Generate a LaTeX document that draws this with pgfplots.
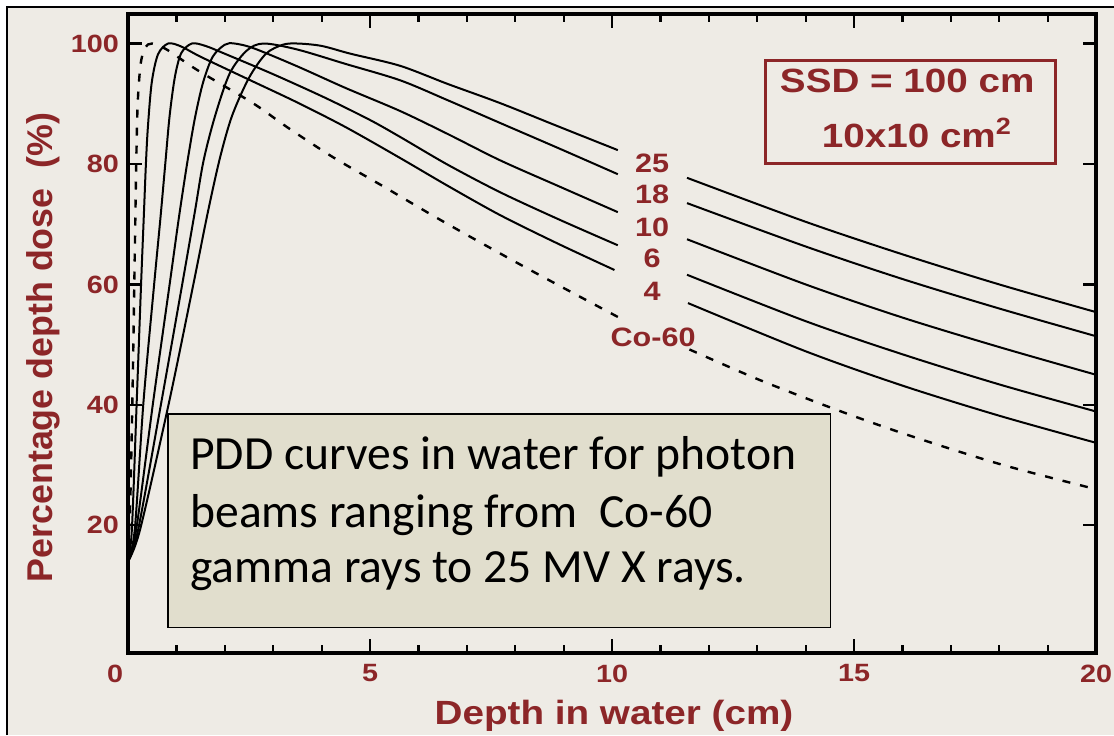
\documentclass[border=0pt]{standalone}
\usepackage{pgfplots}
\pgfplotsset{compat=1.18}
\usepackage{fontspec}
\newfontfamily\lab[FakeStretch=1.15]{Liberation Sans}
\newfontfamily\labn{Liberation Sans}
\newfontfamily\carl{Carlito}
\definecolor{lred}{RGB}{140,38,40}
\definecolor{bg}{RGB}{238,235,229}
\definecolor{boxfill}{RGB}{225,222,205}
\tikzset{pdd/.style={black, line width=1pt, smooth, tension=0.5, mark=none},
         cob/.style={black, line width=1.2pt, smooth, tension=0.5, mark=none, dash pattern=on 4pt off 5pt}}
\begin{document}
\begin{tikzpicture}
\useasboundingbox (0,0) rectangle (557pt,367.5pt);
\fill[white] (0,0) rectangle (557pt,367.5pt);
\fill[bg] (3.5pt,0) rectangle (557pt,364pt);
\draw[line width=1pt] (3.5pt,0) -- (3.5pt,364pt) -- (557pt,364pt);
\begin{axis}[
  at={(64pt,41pt)}, anchor=south west,
  scale only axis, width=484pt, height=319.5pt,
  xmin=0, xmax=20, ymin=-1.2, ymax=104.9,
  axis line style={line width=2pt},
  xtick={0,5,10,15,20},
  xticklabels={\hspace*{-13pt}0,5,10,15,20},
  minor x tick num=4,
  ytick={20,40,60,80,100},
  tick align=inside,
  major tick length=6.5pt, minor tick length=3.5pt,
  xtick style={black, line width=1.1pt},
  ytick style={black, line width=1.1pt},
  tick label style={font=\lab\bfseries\fontsize{12.5}{14}\selectfont, text=lred},
  xticklabel style={yshift=-2.3pt},
  yticklabel style={xshift=-1pt, /pgf/number format/assume math mode=true},
]
% 25 MV
\addplot[pdd] coordinates {(0,14) (0.25,19.3) (0.85,40.5) (1.35,60) (1.65,72) (1.9,81) (2.15,88) (2.5,94.3) (2.85,98.3) (3.2,99.8) (3.5,100) (4.0,99.6) (4.6,98.3) (5.62,96.3) (6.6,93.3) (7.69,90.1) (8.9,86.2) (10.12,82.3)};
\addplot[pdd] coordinates {(11.55,77.7) (14,70.4) (16,65.0) (18,60.0) (20,55.4)};
% 18 MV
\addplot[pdd] coordinates {(0,14) (0.21,19.3) (0.69,40.5) (1.12,60) (1.38,72) (1.56,80.5) (1.8,88) (2.1,95) (2.45,98.8) (2.8,100) (3.5,99.0) (4.5,96.6) (5.62,93.9) (6.6,90.6) (7.69,86.8) (8.9,82.6) (10.12,78.3)};
\addplot[pdd] coordinates {(11.55,73.5) (14,66.3) (16,60.9) (18,56.0) (20,51.4)};
% 10 MV
\addplot[pdd] coordinates {(0,14) (0.17,19.3) (0.52,40.5) (0.86,60) (1.05,71) (1.22,80) (1.38,87.5) (1.55,93.5) (1.75,97.8) (2.0,99.8) (2.2,100) (2.6,99.2) (3.5,96.2) (4.5,92.6) (5.62,88.8) (6.6,85.0) (7.69,80.6) (8.9,76.3) (10.12,72.0)};
\addplot[pdd] coordinates {(11.55,67.5) (14,60.0) (16,54.5) (18,49.6) (20,45.0)};
% 6 MV
\addplot[pdd] coordinates {(0,14) (0.14,19.3) (0.32,40.5) (0.54,60) (0.67,71) (0.77,80) (0.86,88) (0.97,94.5) (1.1,98.4) (1.32,100) (1.6,99.6) (2.0,98.3) (3.0,94.9) (4.07,91.0) (5.0,87.3) (5.62,84.5) (6.6,79.9) (7.69,75.3) (8.9,70.8) (10.12,66.5)};
\addplot[pdd] coordinates {(11.55,61.6) (14,53.9) (16,48.4) (18,43.4) (20,38.9)};
% 4 MV
\addplot[pdd] coordinates {(0,14) (0.08,19.3) (0.18,40.5) (0.27,60) (0.33,72) (0.37,80) (0.41,86) (0.49,93.5) (0.62,98.2) (0.83,100) (1.1,99.5) (1.5,97.8) (2.5,94.0) (3.5,90.2) (4.5,86.1) (5.62,81.0) (6.6,76.4) (7.69,71.5) (8.9,66.7) (10.05,62.4)};
\addplot[pdd] coordinates {(11.57,56.9) (14,48.9) (16,43.2) (18,38.2) (20,33.7)};
% Co-60
\addplot[cob] coordinates {(0,16) (0.05,25) (0.1,45) (0.14,65) (0.17,80) (0.2,90) (0.26,96.5) (0.35,99.3) (0.5,100) (0.8,99.0) (1.43,95.6) (2.58,90.1) (3.29,86.1) (4.24,81.1) (5.27,76.3) (6.5,70.5) (8.24,62.7) (10.12,54.6)};
\addplot[cob] coordinates {(11.6,49.2) (13,44.3) (14.5,39.6) (16,35.3) (18,30.2) (19.9,26.2)};
% curve labels
\begin{scope}[every node/.style={text=lred, font=\lab\bfseries\fontsize{13.3}{15}\selectfont, inner sep=0}]
\node at (axis cs:10.83,80.15) {25};
\node at (axis cs:10.83,75.0) {18};
\node at (axis cs:10.83,69.5) {10};
\node at (axis cs:10.83,64.4) {6};
\node at (axis cs:10.83,58.9) {4};
\node at (axis cs:10.85,51.2) {Co-60};
\end{scope}
% SSD box
\draw[lred, line width=1.5pt] (axis cs:13.18,80.0) rectangle (axis cs:19.17,97.2);
\node[anchor=base, inner sep=0, text=lred, font=\lab\bfseries\fontsize{16.8}{20}\selectfont] at (axis cs:16.1,91.9) {SSD = 100 cm};
\node[anchor=base, inner sep=0, text=lred, font=\lab\bfseries\fontsize{16.8}{20}\selectfont] at (axis cs:16.3,82.8) {10x10 cm\textsuperscript{2}};
% text box
\draw[fill=boxfill, line width=0.6pt] (axis cs:0.826,3.0) rectangle (axis cs:14.52,38.5);
\begin{scope}[every node/.style={anchor=base west, inner sep=0, font=\carl\fontsize{23.8}{28}\selectfont}]
\node at (axis cs:1.28,29.2) {PDD curves in water for photon};
\node at (axis cs:1.28,19.7) {beams ranging from\ \ Co-60};
\node at (axis cs:1.28,10.5) {gamma rays to 25 MV X rays.};
\end{scope}
\end{axis}
% tick marks on the frame (same positions as the axis ticks)
\begin{scope}[line width=1.1pt, black]
\foreach \i in {1,2,3,4,6,7,8,9,11,12,13,14,16,17,18,19} {
  \draw ({64pt+\i*24.2pt},41pt) -- ++(0,4pt);
  \draw ({64pt+\i*24.2pt},360.5pt) -- ++(0,-4pt);
}
\foreach \i in {5,10,15} {
  \draw ({64pt+\i*24.2pt},41pt) -- ++(0,7pt);
  \draw ({64pt+\i*24.2pt},360.5pt) -- ++(0,-7pt);
}
\foreach \v in {20,40,60,80,100} {
  \draw (64pt,{41pt+(\v+1.2)*3.0113pt}) -- ++(7pt,0);
  \draw (548pt,{41pt+(\v+1.2)*3.0113pt}) -- ++(-6.5pt,0);
}
\end{scope}
\node[anchor=base, inner sep=0, text=lred, font=\lab\bfseries\fontsize{16.8}{20}\selectfont] at (307pt,5.5pt) {Depth in water (cm)};
\node[rotate=90, anchor=base, inner sep=0, text=lred, font=\labn\bfseries\fontsize{17.9}{20}\selectfont] at (26pt,193.75pt) {Percentage depth dose\ \ (\%)};
\end{tikzpicture}
\end{document}
